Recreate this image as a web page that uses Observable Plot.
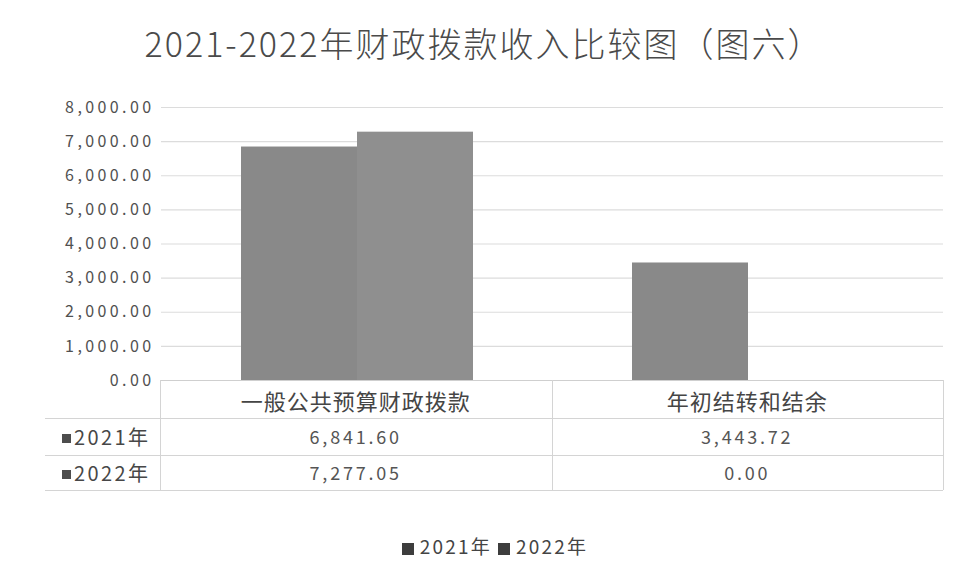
<!DOCTYPE html>
<html>
<head>
<meta charset="utf-8">
<script src="https://cdn.jsdelivr.net/npm/d3@7"></script>
<script src="https://cdn.jsdelivr.net/npm/@observablehq/plot@0.6"></script>
<style>
  html, body { margin: 0; padding: 0; background: #fff; }
  #wrap { position: relative; width: 965px; height: 582px; overflow: hidden;
          font-family: "Noto Sans CJK SC", "Noto Sans", sans-serif; color: #4a4a4a; }
  #title { position: absolute; left: 9px; width: 950px; top: 18px; text-align: center;
           font-size: 34px; line-height: 50px; color: #4a4a4a; letter-spacing: 2px; font-weight: 300; }
  #chart { position: absolute; left: 0; top: 0; }
  .line { position: absolute; background: #d4d4d4; }
  .cell { position: absolute; text-align: center; white-space: nowrap; }
  .key { display: inline-block; width: 9px; height: 9px; background: #4d4d4d; margin-right: 3px; vertical-align: 2px; }
  #legend { position: absolute; left: 0; width: 990px; top: 532px; text-align: center; font-size: 19px; color: #444; letter-spacing: 2.2px; }
  #legend .sw { display: inline-block; width: 12px; height: 12px; background: #3d3d3d; margin: 0 6px 0 0; vertical-align: -1px; }
</style>
</head>
<body>
<div id="wrap">
  <div id="chart"></div>
  <div id="title"></div>
  <div id="table"></div>
  <div id="legend"></div>
</div>
<script>
// ---- data ----
const titleText = "2021-2022年财政拨款收入比较图（图六）";
const categories = ["一般公共预算财政拨款", "年初结转和结余"];
const years = ["2021年", "2022年"];
const values2021 = [6841.60, 3443.72];
const values2022 = [7277.05, 0.00];
const yTicks = [0, 1000, 2000, 3000, 4000, 5000, 6000, 7000, 8000];

const seriesValues = [values2021, values2022];
const data = [];
categories.forEach((c, i) => years.forEach((y, j) => data.push({cat: c, year: y, value: seriesValues[j][i]})));

const fmt = d3.format(",.2f");
const W = 965, H = 582;
const mLeft = 160, mRight = 22, mTop = 107, mBottom = 202;

const plot = Plot.plot({
  width: W,
  height: H,
  marginLeft: mLeft,
  marginRight: mRight,
  marginTop: mTop,
  marginBottom: mBottom,
  style: {fontFamily: "'Noto Sans CJK SC', sans-serif", fontSize: "16px", color: "#505050", letterSpacing: "3.4px", background: "transparent"},
  facet: {data, x: "cat"},
  fx: {domain: categories, padding: 0, axis: null},
  x: {domain: years, paddingInner: 0, paddingOuter: 0.68, axis: null},
  y: {domain: [0, 8000], ticks: yTicks, tickFormat: fmt, tickSize: 0, tickPadding: 7, label: null},
  color: {domain: years, range: ["#898989", "#8f8f8f"]},
  marks: [
    Plot.ruleY(yTicks.slice(1), {stroke: "#dcdcdc", strokeWidth: 1.2}),
    Plot.barY(data, {x: "year", y: "value", fill: "year"}),
    Plot.ruleY([0], {stroke: "#cfcfcf"})
  ]
});
document.getElementById("chart").appendChild(plot);
document.getElementById("title").textContent = titleText;

// ---- data table under the plot ----
const tbl = document.getElementById("table");
const left = mLeft, right = W - mRight;
const colW = (right - left) / categories.length;
const yTop = H - mBottom, rowTops = [yTop, 418, 455, 490];
function add(cls, css, text, html) {
  const d = document.createElement("div");
  d.className = cls;
  Object.assign(d.style, css);
  if (html) d.innerHTML = html; else if (text != null) d.textContent = text;
  tbl.appendChild(d);
  return d;
}
// vertical borders
for (let k = 0; k <= categories.length; k++) {
  add("line", {left: (left + k * colW) + "px", top: yTop + "px", width: "1px", height: (rowTops[3] - yTop) + "px"});
}
// horizontal borders
[418, 455, 490].forEach(y => add("line", {left: "45px", top: y + "px", width: (right - 45) + "px", height: "1px"}));
// header row
categories.forEach((c, i) => add("cell", {left: (left + i * colW) + "px", width: colW + "px", top: (yTop + 2) + "px", fontSize: "22px", lineHeight: "36px", letterSpacing: "1px", color: "#454545"}, c));
// value rows
years.forEach((y, j) => {
  const top = rowTops[j + 1];
  const h = rowTops[j + 2] - top;
  add("cell", {left: "62px", width: "100px", top: top + "px", lineHeight: h + "px", fontSize: "20px", letterSpacing: "2.4px", textAlign: "left", color: "#474747"}, null, '<span class="key"></span>' + y);
  categories.forEach((c, i) => add("cell", {left: (left + i * colW) + "px", width: colW + "px", top: top + "px", lineHeight: h + "px", fontSize: "18px", letterSpacing: "2.8px", color: "#555"}, fmt(seriesValues[j][i])));
});

// ---- legend ----
document.getElementById("legend").innerHTML = years.map(y => '<span class="sw"></span>' + y).join('<span style="display:inline-block;width:6px"></span>');
</script>
</body>
</html>
